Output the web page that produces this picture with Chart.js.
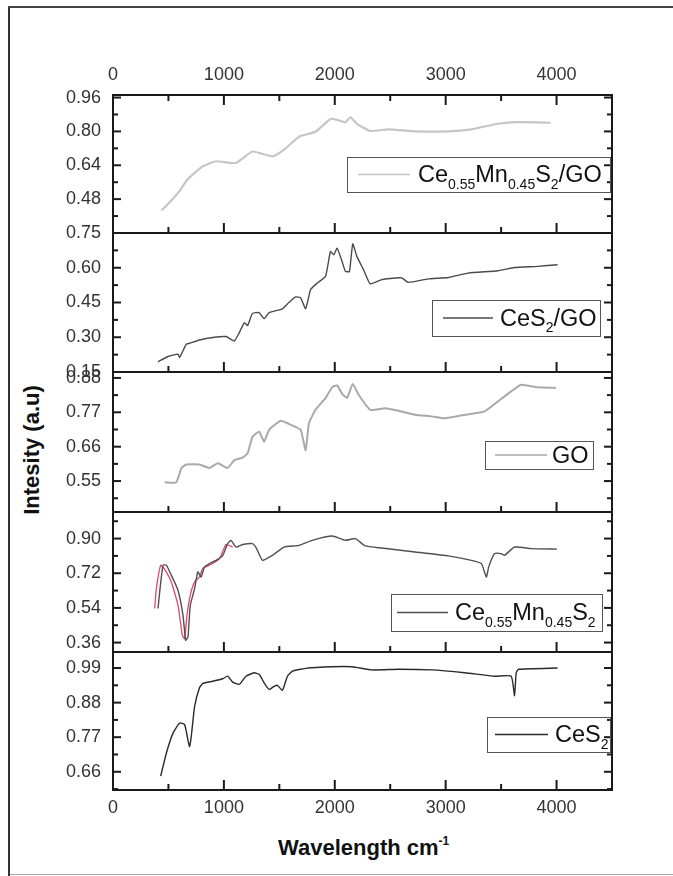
<!DOCTYPE html>
<html>
<head>
<meta charset="utf-8">
<script src="https://cdn.jsdelivr.net/npm/chart.js@4.4.0/dist/chart.umd.min.js"></script>
<style>
  body { margin: 0; background: #fff; }
  #wrap { position: relative; width: 673px; height: 876px; overflow: hidden; background: #fff;
          font-family: "Liberation Sans", Arial, sans-serif; }
  .rule { position: absolute; }
  canvas { position: absolute; left: 0; }
  .ytitle { position: absolute; left: -68px; top: 439px; width: 200px; height: 22px; line-height: 22px;
            text-align: center; font-weight: bold; font-size: 22px; color: #111; transform: rotate(-90deg); }
  .xtitle { position: absolute; left: 278px; top: 837px; height: 22px; line-height: 22px;
            font-weight: bold; font-size: 22px; color: #111; white-space: nowrap; }
  .xtitle sup { font-size: 12px; vertical-align: 10px; line-height: 0; }
</style>
</head>
<body>
<div id="wrap">
  <div class="rule" style="left:8px;top:6px;width:2px;height:870px;background:#333"></div>
  <div class="rule" style="left:8px;top:6px;width:665px;height:2px;background:#444"></div>
  <div class="rule" style="left:10px;top:874px;width:663px;height:1px;background:#aaa"></div>
  <div class="ytitle">Intesity (a.u)</div>
  <div class="xtitle">Wavelength cm<sup>-1</sup></div>
</div>
<script>
// ---- data (wavenumber, intensity) ----
// Ce0.55Mn0.45S2/GO
var ceMnGoX = [437, 511, 601, 661, 721, 810, 930, 1109, 1258, 1438, 1558, 1677, 1826, 1961, 2036, 2096, 2141, 2200, 2320, 2484, 2724, 3023, 3232, 3471, 3650, 3949];
var ceMnGoY = [0.427, 0.465, 0.519, 0.566, 0.597, 0.635, 0.659, 0.651, 0.705, 0.682, 0.72, 0.775, 0.798, 0.859, 0.852, 0.843, 0.867, 0.836, 0.802, 0.81, 0.80, 0.80, 0.81, 0.836, 0.844, 0.841];

// CeS2/GO
var ceGoX = [406, 496, 586, 601, 661, 690, 780, 900, 1019, 1094, 1139, 1184, 1214, 1258, 1318, 1363, 1408, 1528, 1588, 1647, 1692, 1737, 1782, 1842, 1917, 1961, 1991, 2021, 2066, 2096, 2132, 2162, 2200, 2260, 2320, 2424, 2544, 2604, 2664, 2843, 3023, 3202, 3471, 3621, 3830, 4009];
var ceGoY = [0.194, 0.217, 0.227, 0.213, 0.27, 0.274, 0.288, 0.299, 0.303, 0.284, 0.32, 0.363, 0.351, 0.403, 0.406, 0.38, 0.406, 0.423, 0.451, 0.474, 0.47, 0.423, 0.506, 0.534, 0.563, 0.67, 0.656, 0.684, 0.627, 0.584, 0.584, 0.703, 0.648, 0.591, 0.53, 0.549, 0.556, 0.556, 0.537, 0.552, 0.558, 0.577, 0.587, 0.601, 0.606, 0.613];

// GO
var goX = [466, 571, 616, 661, 780, 870, 945, 1034, 1094, 1169, 1214, 1258, 1318, 1363, 1408, 1513, 1603, 1692, 1737, 1767, 1827, 1917, 1976, 2021, 2066, 2111, 2162, 2215, 2320, 2455, 2574, 2724, 2873, 2993, 3172, 3352, 3471, 3591, 3681, 3830, 3994];
var goY = [0.546, 0.546, 0.591, 0.603, 0.603, 0.592, 0.607, 0.592, 0.617, 0.625, 0.639, 0.692, 0.708, 0.676, 0.714, 0.743, 0.730, 0.714, 0.649, 0.735, 0.778, 0.816, 0.85, 0.856, 0.829, 0.816, 0.861, 0.826, 0.778, 0.783, 0.775, 0.762, 0.757, 0.751, 0.762, 0.773, 0.805, 0.837, 0.858, 0.85, 0.848];

// Ce0.55Mn0.45S2 (grey trace + red trace)
var ceMnX = [406, 421, 451, 481, 526, 586, 631, 655, 676, 697, 736, 765, 795, 825, 870, 930, 990, 1034, 1064, 1109, 1169, 1258, 1288, 1348, 1438, 1543, 1677, 1797, 1976, 2096, 2185, 2275, 2424, 2724, 3023, 3232, 3322, 3367, 3388, 3441, 3501, 3531, 3621, 3770, 4003];
var ceMnY = [0.537, 0.623, 0.762, 0.762, 0.71, 0.632, 0.502, 0.372, 0.39, 0.554, 0.64, 0.727, 0.70, 0.753, 0.77, 0.787, 0.813, 0.874, 0.891, 0.856, 0.869, 0.874, 0.856, 0.787, 0.813, 0.856, 0.865, 0.891, 0.913, 0.891, 0.90, 0.862, 0.851, 0.83, 0.81, 0.787, 0.77, 0.70, 0.753, 0.822, 0.822, 0.813, 0.856, 0.848, 0.845];
var ceMnRedX = [376, 391, 430, 466, 526, 586, 625, 646, 667, 697, 736, 780, 810, 870, 960, 1019, 1079];
var ceMnRedY = [0.537, 0.64, 0.762, 0.74, 0.675, 0.554, 0.398, 0.38, 0.502, 0.606, 0.675, 0.70, 0.745, 0.762, 0.795, 0.869, 0.856];

// CeS2
var ceX = [430, 481, 541, 601, 646, 676, 690, 705, 736, 780, 810, 900, 990, 1034, 1079, 1139, 1199, 1273, 1318, 1363, 1408, 1453, 1483, 1528, 1573, 1618, 1737, 1976, 2156, 2335, 2574, 2873, 3172, 3441, 3591, 3621, 3636, 3657, 4009];
var ceY = [0.646, 0.719, 0.783, 0.815, 0.81, 0.761, 0.74, 0.77, 0.868, 0.927, 0.941, 0.948, 0.956, 0.964, 0.945, 0.938, 0.964, 0.975, 0.97, 0.943, 0.922, 0.932, 0.935, 0.919, 0.964, 0.98, 0.989, 0.994, 0.994, 0.984, 0.986, 0.984, 0.975, 0.964, 0.964, 0.902, 0.975, 0.986, 0.99];

// tick labels
var xTicks = [0, 1000, 2000, 3000, 4000];
var yTicks1 = [0.32, 0.48, 0.64, 0.80, 0.96];
var yLabels1 = [0.48, 0.64, 0.80, 0.96];
var yTicks2 = [0.15, 0.30, 0.45, 0.60, 0.75];
var yTicks3 = [0.55, 0.66, 0.77, 0.88];
var yTicks4 = [0.36, 0.54, 0.72, 0.90];
var yTicks5 = [0.66, 0.77, 0.88, 0.99];

var FONT = '"Liberation Sans", Arial, sans-serif';

function pts(xs, ys) {
    return xs.map(function(x, i) { return {x: x, y: ys[i]}; });
}

function drawTicks(chart, o) {
    var ctx = chart.ctx, a = chart.chartArea;
    var xs = chart.scales.x, ys = chart.scales.y;
    var w = 2;
    ctx.save();
    ctx.fillStyle = '#1a1a1a';
    for (var v = 0; v <= 4500; v += 500) {
        var px = xs.getPixelForValue(v);
        var len = v % 1000 === 0 ? 10 : 6;
        ctx.fillRect(px - w / 2, a.bottom - len, w, len);
        if (o.xPos === 'top') ctx.fillRect(px - w / 2, a.top, w, len);
    }
    var maj = o.major, half = (maj[1] - maj[0]) / 2;
    var minor = [maj[0] - half];
    maj.forEach(function(m) { minor.push(m + half); });
    maj.forEach(function(m) {
        var py = ys.getPixelForValue(m);
        ctx.fillRect(a.left, py - w / 2, 8, w);
        ctx.fillRect(a.right - 8, py - w / 2, 8, w);
    });
    minor.forEach(function(m) {
        if (m < ys.min || m > ys.max) return;
        var py = ys.getPixelForValue(m);
        ctx.fillRect(a.left, py - w / 2, 5, w);
        ctx.fillRect(a.right - 5, py - w / 2, 5, w);
    });
    ctx.strokeStyle = '#1a1a1a';
    ctx.lineWidth = 2;
    ctx.strokeRect(a.left, a.top, a.right - a.left, a.bottom - a.top);
    ctx.restore();
}

function drawLegend(chart, o) {
    var ctx = chart.ctx, lg = o.legend, dy = o.top;
    var b = lg.box;
    ctx.save();
    ctx.strokeStyle = '#555';
    ctx.lineWidth = 1;
    ctx.strokeRect(b[0] + 0.5, b[1] - dy + 0.5, b[2] - b[0], b[3] - b[1]);
    var cy = (b[1] + b[3]) / 2 - dy;
    ctx.strokeStyle = lg.color;
    ctx.lineWidth = 1.6;
    ctx.beginPath();
    ctx.moveTo(lg.line[0], cy); ctx.lineTo(lg.line[1], cy);
    ctx.stroke();
    var x = lg.textX, base = cy + 7.5;
    ctx.fillStyle = '#111';
    ctx.textBaseline = 'alphabetic';
    lg.parts.forEach(function(p) {
        ctx.font = (p.sub ? '14px ' : '23.5px ') + FONT;
        ctx.fillText(p.t, x, p.sub ? base + 6.5 : base);
        x += ctx.measureText(p.t).width;
    });
    ctx.restore();
}

// frame, inward ticks and legend box, all in one pass
var panelDecor = {
    id: 'panelDecor',
    afterDraw: function(chart) {
        var o = chart.config._config.panel;
        drawTicks(chart, o);
        drawLegend(chart, o);
    }
};

function panel(cfg) {
    var c = document.createElement('canvas');
    c.width = 673;
    c.height = cfg.h;
    c.style.top = cfg.top + 'px';
    document.getElementById('wrap').appendChild(c);
    var labels = cfg.labels || cfg.major;
    return new Chart(c.getContext('2d'), {
        type: 'line',
        panel: cfg,
        data: {
            datasets: cfg.series.map(function(s) {
                return {
                    data: pts(s.x, s.y),
                    borderColor: s.color,
                    borderWidth: s.width,
                    pointRadius: 0,
                    tension: 0.15,
                    fill: false
                };
            })
        },
        options: {
            responsive: false,
            animation: false,
            devicePixelRatio: 1,
            layout: { padding: cfg.pad },
            plugins: {
                legend: { display: false },
                tooltip: { enabled: false }
            },
            scales: {
                x: {
                    type: 'linear',
                    min: 0,
                    max: 4500,
                    display: !!cfg.xPos,
                    position: cfg.xPos || 'bottom',
                    grid: { display: false, drawTicks: false },
                    border: { display: false },
                    afterBuildTicks: function(s) { s.ticks = xTicks.map(function(v) { return {value: v}; }); },
                    afterFit: function(s) { s.height = cfg.xH || 0; },
                    ticks: {
                        autoSkip: false,
                        maxRotation: 0,
                        padding: cfg.xPos === 'top' ? 9 : 7,
                        color: '#333',
                        font: { family: FONT, size: 18 },
                        callback: function(v) { return String(v); }
                    }
                },
                y: {
                    type: 'linear',
                    min: cfg.min,
                    max: cfg.max,
                    grid: { display: false, drawTicks: false },
                    border: { display: false },
                    afterBuildTicks: function(s) { s.ticks = labels.map(function(v) { return {value: v}; }); },
                    afterFit: function(s) { s.width = 113; },
                    ticks: {
                        autoSkip: false,
                        padding: 12,
                        color: '#333',
                        font: { family: FONT, size: 18 },
                        callback: function(v) { return v.toFixed(2); }
                    }
                }
            }
        },
        plugins: [panelDecor]
    });
}

document.addEventListener('DOMContentLoaded', function() {
    // Ce0.55Mn0.45S2/GO
    panel({
        top: 40, h: 218, pad: {top: 0, bottom: 25, left: 0, right: 61},
        xPos: 'top', xH: 55,
        min: 0.32, max: 0.972, major: yTicks1, labels: yLabels1,
        series: [{x: ceMnGoX, y: ceMnGoY, color: '#c6c6c6', width: 2.2}],
        legend: {box: [347, 157, 610, 192], line: [358, 410], textX: 418, color: '#c6c6c6',
            parts: [{t: 'Ce'}, {t: '0.55', sub: true}, {t: 'Mn'}, {t: '0.45', sub: true}, {t: 'S'}, {t: '2', sub: true}, {t: '/GO'}]}
    });

    // CeS2/GO
    panel({
        top: 208, h: 189, pad: {top: 25, bottom: 25, left: 0, right: 61},
        min: 0.15, max: 0.75, major: yTicks2,
        series: [{x: ceGoX, y: ceGoY, color: '#4a4a4a', width: 1.4}],
        legend: {box: [432, 300, 600, 336], line: [443, 493], textX: 500, color: '#4a4a4a',
            parts: [{t: 'CeS'}, {t: '2', sub: true}, {t: '/GO'}]}
    });

    // GO
    panel({
        top: 347, h: 190, pad: {top: 25, bottom: 25, left: 0, right: 61},
        min: 0.451, max: 0.899, major: yTicks3,
        series: [{x: goX, y: goY, color: '#a9a9a9', width: 2}],
        legend: {box: [485, 441, 593, 469], line: [495, 547], textX: 552, color: '#a9a9a9',
            parts: [{t: 'GO'}]}
    });

    // Ce0.55Mn0.45S2
    panel({
        top: 487, h: 190, pad: {top: 25, bottom: 25, left: 0, right: 61},
        min: 0.311, max: 1.038, major: yTicks4,
        series: [
            {x: ceMnX, y: ceMnY, color: '#505050', width: 1.4},
            {x: ceMnRedX, y: ceMnRedY, color: '#e8456b', width: 1.3}
        ],
        legend: {box: [391, 594, 602, 631], line: [397, 448], textX: 455, color: '#505050',
            parts: [{t: 'Ce'}, {t: '0.55', sub: true}, {t: 'Mn'}, {t: '0.45', sub: true}, {t: 'S'}, {t: '2', sub: true}]}
    });

    // CeS2
    panel({
        top: 627, h: 203, pad: {top: 25, bottom: 0, left: 0, right: 61},
        xPos: 'bottom', xH: 40,
        min: 0.602, max: 1.041, major: yTicks5,
        series: [{x: ceX, y: ceY, color: '#2a2a2a', width: 1.4}],
        legend: {box: [487, 717, 610, 752], line: [495, 548], textX: 555, color: '#2a2a2a',
            parts: [{t: 'CeS'}, {t: '2', sub: true}]}
    });
});
</script>
</body>
</html>
